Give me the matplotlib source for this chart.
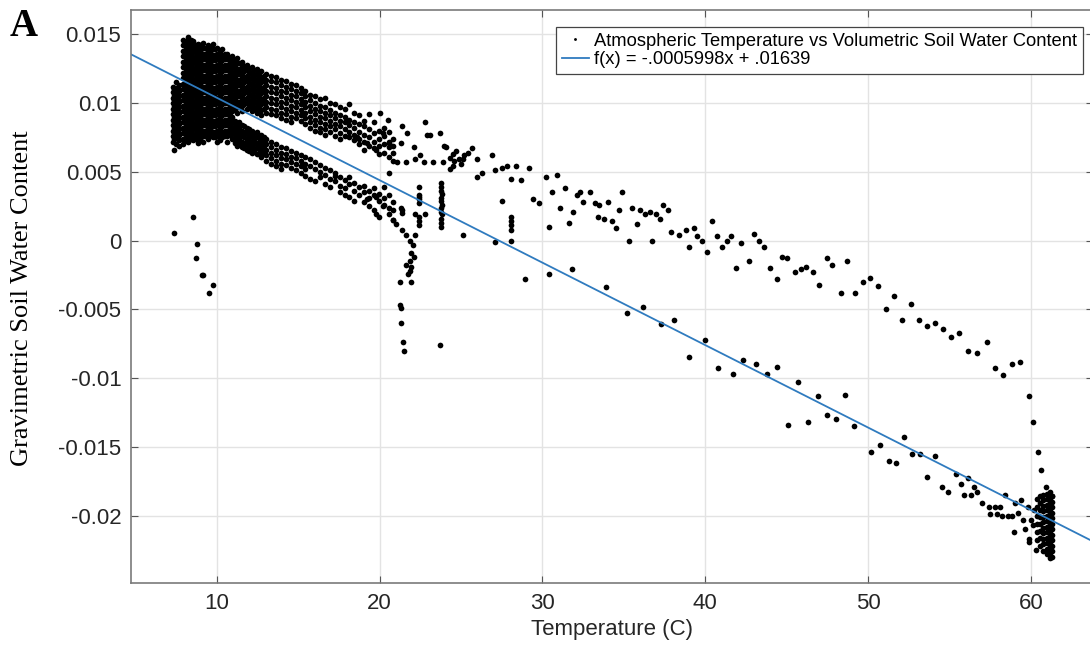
import numpy as np
import matplotlib.pyplot as plt

# soil water values are written in units of 1e-3
# cool end: one column of readings per temperature
cool_temp = [7.30, 7.50, 7.70, 7.95, 8.25, 8.55, 8.85, 9.15, 9.45, 9.75, 10.05, 10.35,
             10.65, 10.95, 11.25, 11.55, 11.85, 12.15, 12.45, 12.75, 13.05, 13.35, 13.65,
             13.95, 14.25, 14.55, 14.85, 15.15, 15.45, 15.75, 16.05, 16.35, 16.65, 16.95,
             17.25, 17.55, 17.85, 18.15, 18.45, 18.75, 19.05, 19.35, 19.65, 19.95, 20.25,
             20.55, 20.85]
cool_swc = [
    [11.2, 10.8, 10.4, 10.0, 9.6, 9.2, 8.8, 8.4, 8.0, 7.6, 7.2],
    [11.5, 11.1, 10.7, 10.3, 9.9, 9.5, 9.1, 8.7, 8.3, 7.9, 7.5, 7.0],
    [11.3, 10.9, 10.5, 10.1, 9.7, 9.3, 8.9, 8.5, 8.1, 7.7, 7.3, 6.9],
    [14.6, 14.2, 13.8, 13.4, 13.0, 12.6, 12.2, 11.8, 11.4, 11.0, 10.6, 10.2, 9.8, 9.4, 9.0, 8.6, 8.2, 7.8, 7.4, 7.0],
    [14.8, 14.4, 14.0, 13.6, 13.2, 12.8, 12.4, 12.0, 11.6, 11.2, 10.8, 10.4, 10.0, 9.6, 9.2, 8.8, 8.4, 8.0, 7.6, 7.2],
    [14.5, 14.1, 13.7, 13.3, 12.9, 12.5, 12.1, 11.7, 11.3, 10.9, 10.5, 10.1, 9.7, 9.3, 8.9, 8.5, 8.1, 7.7, 7.3],
    [14.3, 13.9, 13.5, 13.1, 12.7, 12.3, 11.9, 11.5, 11.1, 10.7, 10.3, 9.9, 9.5, 9.1, 8.7, 8.3, 7.9, 7.5, 7.1],
    [14.4, 14.0, 13.6, 13.2, 12.8, 12.4, 12.0, 11.6, 11.2, 10.8, 10.4, 10.0, 9.6, 9.2, 8.8, 8.4, 8.0, 7.6, 7.2],
    [14.2, 13.8, 13.4, 13.0, 12.6, 12.2, 11.8, 11.4, 11.0, 10.6, 10.2, 9.8, 9.4, 9.0, 8.6, 8.2, 7.8, 7.4],
    [14.3, 13.9, 13.5, 13.1, 12.7, 12.3, 11.9, 11.5, 11.1, 10.7, 10.3, 9.9, 9.5, 9.1, 8.7, 8.3, 7.9, 7.5],
    [14.0, 13.6, 13.2, 12.8, 12.4, 12.0, 11.6, 11.2, 10.8, 10.4, 10.0, 9.6, 9.2, 8.8, 8.4, 8.0, 7.6, 7.2],
    [13.9, 13.5, 13.1, 12.7, 12.3, 11.9, 11.5, 11.1, 10.7, 10.3, 9.9, 9.5, 9.1, 8.7, 8.3, 7.9, 7.5],
    [13.6, 13.2, 12.8, 12.4, 12.0, 11.6, 11.2, 10.8, 10.4, 10.0, 9.6, 9.2, 8.8, 8.4, 8.0, 7.6, 7.2],
    [13.4, 13.0, 12.6, 12.2, 11.8, 11.4, 11.0, 10.6, 10.2, 9.8, 9.4, 9.0, 8.6, 8.2, 7.8, 7.4],
    [13.3, 12.9, 12.5, 12.1, 11.7, 11.3, 10.9, 10.5, 10.1, 9.7, 9.3, 8.5, 8.1, 7.7, 7.3, 6.9],
    [13.0, 12.6, 12.2, 11.8, 11.4, 11.0, 10.6, 10.2, 9.8, 9.4, 8.4, 8.0, 7.6, 7.2, 6.8],
    [12.8, 12.4, 12.0, 11.6, 11.2, 10.8, 10.4, 10.0, 9.6, 8.2, 7.8, 7.4, 7.0, 6.6],
    [12.6, 12.2, 11.8, 11.4, 11.0, 10.6, 10.2, 9.8, 9.4, 8.0, 7.6, 7.2, 6.8, 6.4],
    [12.5, 12.1, 11.7, 11.3, 10.9, 10.5, 10.1, 9.7, 9.3, 7.9, 7.5, 7.1, 6.7, 6.3],
    [12.3, 11.9, 11.5, 11.1, 10.7, 10.3, 9.9, 9.5, 9.1, 7.7, 7.3, 6.9, 6.5, 6.1],
    [12.1, 11.7, 11.3, 10.9, 10.5, 10.1, 9.7, 9.3, 7.4, 7.0, 6.6, 6.2, 5.8],
    [12.0, 11.6, 11.2, 10.8, 10.4, 10.0, 9.6, 9.2, 7.2, 6.8, 6.4, 6.0, 5.6],
    [11.9, 11.5, 11.1, 10.7, 10.3, 9.9, 9.5, 9.1, 7.0, 6.6, 6.2, 5.8, 5.4],
    [11.7, 11.3, 10.9, 10.5, 10.1, 9.7, 9.3, 8.9, 6.8, 6.4, 6.0, 5.6, 5.2],
    [11.6, 11.2, 10.8, 10.4, 10.0, 9.6, 9.2, 8.8, 6.7, 6.3, 5.9, 5.5],
    [11.4, 11.0, 10.6, 10.2, 9.8, 9.4, 9.0, 8.6, 6.5, 6.1, 5.7, 5.3],
    [11.3, 10.9, 10.5, 10.1, 9.7, 9.3, 8.9, 6.4, 6.0, 5.6, 5.1],
    [11.1, 10.7, 10.3, 9.9, 9.5, 9.1, 8.7, 6.2, 5.8, 5.4, 4.9],
    [10.9, 10.5, 10.1, 9.7, 9.3, 8.9, 8.5, 6.1, 5.6, 5.2, 4.7],
    [10.6, 10.2, 9.8, 9.4, 9.0, 8.6, 8.2, 5.9, 5.4, 4.5],
    [10.5, 10.0, 9.6, 9.2, 8.8, 8.4, 8.0, 5.7, 5.2, 4.3],
    [10.3, 9.8, 9.4, 9.0, 8.6, 8.2, 7.9, 5.5, 5.0, 4.6],
    [10.4, 9.7, 9.3, 8.9, 8.5, 8.1, 7.7, 5.3, 4.8, 4.1],
    [10.0, 9.5, 9.1, 8.7, 8.3, 7.9, 5.1, 4.5, 3.9],
    [9.9, 9.3, 8.9, 8.5, 8.1, 7.6, 4.9, 4.3, 4.7],
    [9.7, 9.1, 8.7, 8.3, 7.8, 7.4, 4.6, 4.0, 3.5],
    [9.6, 9.0, 8.6, 8.1, 7.6, 4.4, 3.8, 3.3],
    [9.9, 8.8, 8.4, 7.9, 7.5, 4.6, 4.1, 3.2],
    [9.3, 8.6, 8.2, 7.7, 7.3, 4.2, 3.6, 2.9],
    [9.1, 8.5, 7.9, 7.4, 7.0, 3.9, 3.3],
    [8.7, 8.3, 7.7, 7.2, 6.6, 4.0, 3.5, 2.8],
    [9.2, 8.1, 7.5, 6.9, 3.6, 3.1, 2.5],
    [8.6, 7.8, 7.2, 6.7, 3.8, 3.3, 2.2],
    [8.0, 7.4, 6.9, 6.3, 3.4, 2.9, 1.7],
    [8.2, 7.6, 7.0, 6.4, 3.9, 3.1, 2.6],
    [7.9, 7.2, 6.8, 6.1, 3.3, 2.4, 1.9],
    [7.4, 6.9, 6.4, 5.8, 2.8, 2.2, 1.5],
]

# further readings in the densest part of the cool end
fill_temp = [7.40, 7.60, 8.10, 8.40, 8.70, 9.00, 9.30, 9.60, 9.90, 10.20, 10.50, 10.80,
             11.10, 11.40, 11.70, 12.00, 12.30, 12.60, 12.90]
fill_swc = [
    [11.0, 10.6, 10.2, 9.8, 9.4, 9.0, 8.6, 8.2, 7.8, 7.4],
    [11.0, 10.6, 10.2, 9.8, 9.4, 9.0, 8.6, 8.2, 7.8, 7.4],
    [14.5, 14.1, 13.7, 13.3, 12.9, 12.5, 12.1, 11.7, 11.3, 10.9, 10.5, 10.1, 9.7, 9.3, 8.9, 8.5, 8.1, 7.7, 7.3],
    [14.6, 14.2, 13.8, 13.4, 13.0, 12.6, 12.2, 11.8, 11.4, 11.0, 10.6, 10.2, 9.8, 9.4, 9.0, 8.6, 8.2, 7.8, 7.4],
    [14.2, 13.8, 13.4, 13.0, 12.6, 12.2, 11.8, 11.4, 11.0, 10.6, 10.2, 9.8, 9.4, 9.0, 8.6, 8.2, 7.8, 7.4],
    [14.2, 13.8, 13.4, 13.0, 12.6, 12.2, 11.8, 11.4, 11.0, 10.6, 10.2, 9.8, 9.4, 9.0, 8.6, 8.2, 7.8, 7.4],
    [14.0, 13.6, 13.2, 12.8, 12.4, 12.0, 11.6, 11.2, 10.8, 10.4, 10.0, 9.6, 9.2, 8.8, 8.4, 8.0, 7.6],
    [14.1, 13.7, 13.3, 12.9, 12.5, 12.1, 11.7, 11.3, 10.9, 10.5, 10.1, 9.7, 9.3, 8.9, 8.5, 8.1, 7.7],
    [13.9, 13.5, 13.1, 12.7, 12.3, 11.9, 11.5, 11.1, 10.7, 10.3, 9.9, 9.5, 9.1, 8.7, 8.3, 7.9, 7.5],
    [13.7, 13.3, 12.9, 12.5, 12.1, 11.7, 11.3, 10.9, 10.5, 10.1, 9.7, 9.3, 8.9, 8.5, 8.1, 7.7, 7.3],
    [13.6, 13.2, 12.8, 12.4, 12.0, 11.6, 11.2, 10.8, 10.4, 10.0, 9.6, 9.2, 8.8, 8.4, 8.0, 7.6],
    [13.3, 12.9, 12.5, 12.1, 11.7, 11.3, 10.9, 10.5, 10.1, 9.7, 9.3, 8.9, 8.5, 8.1, 7.7],
    [13.1, 12.7, 12.3, 11.9, 11.5, 11.1, 10.7, 10.3, 9.9, 9.5, 8.7, 8.3, 7.9, 7.5, 7.1],
    [12.9, 12.5, 12.1, 11.7, 11.3, 10.9, 10.5, 10.1, 9.7, 8.6, 8.2, 7.8, 7.4, 7.0],
    [12.7, 12.3, 11.9, 11.5, 11.1, 10.7, 10.3, 9.9, 8.3, 7.9, 7.5, 7.1, 6.7],
    [12.5, 12.1, 11.7, 11.3, 10.9, 10.5, 10.1, 9.7, 8.1, 7.7, 7.3, 6.9, 6.5],
    [12.4, 12.0, 11.6, 11.2, 10.8, 10.4, 10.0, 9.6, 7.8, 7.4, 7.0, 6.6],
    [12.2, 11.8, 11.4, 11.0, 10.6, 10.2, 9.8, 9.4, 7.6, 7.2, 6.8, 6.4],
    [12.0, 11.6, 11.2, 10.8, 10.4, 10.0, 9.6, 7.5, 7.1, 6.7, 6.3],
]

# hot end cluster near 61 C
hot_temp = [60.35, 60.55, 60.75, 60.95, 61.15, 61.30]
hot_swc = [
    [-18.8, -19.4, -20.0, -20.6, -21.2, -21.8],
    [-18.6, -19.1, -19.6, -20.1, -20.6, -21.1, -21.6, -22.2],
    [-18.5, -18.9, -19.3, -19.7, -20.1, -20.5, -20.9, -21.3, -21.7, -22.1, -22.6],
    [-18.4, -18.8, -19.2, -19.6, -20.0, -20.4, -20.8, -21.2, -21.6, -22.0, -22.4, -22.8],
    [-18.3, -18.7, -19.1, -19.5, -19.9, -20.3, -20.7, -21.1, -21.5, -21.9, -22.3, -22.7, -23.1],
    [-18.6, -19.0, -19.4, -19.8, -20.2, -20.6, -21.0, -21.4, -21.8, -22.2, -22.6, -23.0],
]

# single readings
pts_temp = [
    7.38, 7.40, 8.53, 8.77, 8.71, 9.08, 9.18, 9.75, 9.53,
    18.6, 19.2, 19.8, 20.0, 20.2, 20.5, 20.6, 20.6, 21.1, 21.3, 21.4, 21.6, 21.7, 22.1, 22.2,
    22.5, 22.7, 22.8, 22.9, 23.1, 23.3, 23.7, 23.9, 23.95, 24.1, 24.5, 24.7, 24.9, 25.1, 25.7,
    26.0, 26.0, 26.3, 26.9, 27.1, 27.5, 27.5, 27.8, 28.1, 28.4, 28.7, 29.2, 29.4, 29.8, 30.2,
    30.4, 30.6, 30.9, 31.1, 31.4, 31.6, 31.9, 32.1, 32.3, 32.5, 32.9, 33.2, 33.4, 33.5, 33.8,
    34.0, 34.3, 34.5, 34.7, 34.9, 35.3, 35.5, 35.8, 36.0, 36.3, 36.6, 36.7, 37.0, 37.2, 37.4,
    37.7, 37.9, 38.4, 38.8, 39.0, 39.3, 39.5, 39.8, 40.1, 40.4, 40.7, 41.0, 41.3, 41.6, 41.9,
    42.2, 42.7, 43.0, 43.3, 43.6, 44.0, 44.4, 44.7, 45.0, 45.5, 45.9, 46.2, 46.6, 47.0, 47.5,
    47.8, 48.3, 48.7, 49.2, 49.7, 50.1, 50.6, 51.1, 51.6, 52.1, 52.6, 53.1, 53.6, 54.1, 54.6,
    55.1, 55.6, 56.1, 56.7, 57.3, 57.8, 58.3, 58.8, 59.3, 59.9, 60.1, 60.4, 60.6, 60.9, 61.3,
    24.5, 24.3, 25.2, 25.4, 25.0, 24.3, 24.6,
    21.35, 21.6, 21.85, 22.15, 22.05, 21.95, 22.1, 21.85, 21.95, 21.6, 21.75, 21.85, 21.25,
    21.9, 21.25, 21.3, 21.3, 21.45, 21.5, 20.8, 21.0, 21.35, 21.4, 21.3, 20.2, 19.8, 19.8,
    19.2, 22.2, 22.8, 22.4,
    22.45, 22.45, 22.45, 22.45, 22.45, 22.45, 22.45,
    23.75, 23.8, 23.75, 23.85, 23.8, 23.75, 23.85, 23.8, 23.75, 23.85, 23.8, 23.8, 23.75, 23.7,
    25.1, 27.1, 28.1, 28.1, 28.1, 28.1, 28.1, 28.9, 30.4,
    31.8, 33.9, 35.2, 36.2, 37.3, 38.1, 39.0, 40.0, 40.8, 41.7, 42.3, 43.1, 43.8, 44.4, 45.1,
    45.7, 46.3, 46.9, 47.5, 48.0, 48.6, 49.1, 50.2, 50.7, 51.3, 51.7, 52.2, 52.7, 53.2, 53.6,
    54.1, 54.5, 54.9, 55.4, 55.7, 55.9, 56.1, 56.3, 56.5, 56.7, 57.0, 57.4, 57.5, 57.8, 57.9,
    58.1, 58.2, 58.4, 58.6, 58.8, 58.95, 59.0, 59.2, 59.4, 59.5, 59.6, 59.8, 59.9, 60.0, 59.9,
    60.1, 60.2, 60.3,
]
pts_swc = [
    6.6, 0.54, 1.7, -0.26, -1.3, -2.5, -2.5, -3.2, -3.8,
    7.5, 7.1, 6.6, 9.3, 7.8, 8.8, 7.1, 4.9, 5.7, 7.1, 8.3, 5.7, 7.8, 6.8, 5.9,
    6.2, 5.7, 8.6, 7.7, 7.7, 5.7, 7.8, 5.7, 6.9, 6.8, 5.4, 6.5, 5.9, 5.9, 6.7,
    5.9, 4.6, 4.9, 6.2, 5.1, 5.3, 2.9, 5.4, 4.5, 5.4, 4.4, 5.3, 3.0, 2.7, 4.6,
    1.0, 3.5, 4.8, 2.4, 3.8, 1.3, 2.1, 3.3, 3.5, 2.8, 3.5, 2.7, 1.7, 2.6, 1.6,
    2.8, 1.4, 0.9, 2.2, 3.5, 0.0, 2.4, 1.2, 2.2, 1.9, 2.1, 0.0, 1.9, 1.6, 2.6,
    2.2, 0.6, 0.4, 0.8, -0.5, 0.9, 0.3, 0.0, -0.8, 1.4, 0.3, -0.5, 0.0, 0.3, -2.0,
    -0.2, -1.5, 0.5, 0.0, -0.5, -2.0, -2.8, -1.2, -1.3, -2.3, -2.1, -1.9, -2.3, -3.2, -1.3,
    -1.8, -3.8, -1.5, -3.8, -3.0, -2.7, -3.3, -5.0, -4.0, -5.8, -4.6, -5.8, -6.2, -6.0, -6.4,
    -7.0, -6.7, -8.0, -8.2, -7.4, -9.3, -9.8, -9.0, -8.8, -11.3, -13.2, -15.4, -16.7, -17.9, -18.6,
    6.3, 6.0, 6.2, 6.4, 5.6, 5.2, 5.8,
    0.8, 0.4, 0.0, 0.4, -0.3, -0.9, -1.2, -1.5, -1.9, -1.8, -2.4, -2.2, -3.0,
    -3.0, -4.7, -4.9, -6.0, -7.4, -8.0, 1.5, 1.2, 2.2, 2.0, 2.4, 2.5, 3.2, 1.9,
    3.0, 1.9, 1.9, 3.2,
    3.9, 3.3, 3.0, 2.7, 1.7, 1.4, 1.1,
    4.2, 3.9, 3.6, 3.4, 3.1, 2.9, 2.6, 2.4, 2.1, 1.9, 1.6, 1.3, 1.0, -7.6,
    0.4, -0.1, 0.0, 1.7, 1.4, 1.1, 0.8, -2.8, -2.4,
    -2.1, -3.4, -5.3, -4.8, -6.1, -5.8, -8.5, -7.2, -9.3, -9.7, -8.7, -9.0, -9.7, -9.2, -13.4,
    -10.3, -13.2, -11.3, -12.7, -13.0, -11.2, -13.5, -15.4, -14.9, -16.0, -16.2, -14.3, -15.5, -15.5, -17.2,
    -15.7, -17.9, -18.3, -17.0, -17.7, -18.5, -17.3, -18.5, -17.9, -18.3, -19.1, -19.4, -19.9, -19.4, -19.9,
    -19.4, -20.0, -18.5, -20.0, -20.0, -21.2, -19.1, -19.8, -18.9, -20.3, -21.0, -19.4, -21.9, -20.3, -21.7,
    -20.7, -19.6, -22.5,
]

fit_slope = -0.0005998
fit_intercept = 0.01639

x_lim = (4.74, 63.8)
y_lim = (-0.0249, 0.01677)

col_temp = cool_temp + fill_temp + hot_temp
col_swc = cool_swc + fill_swc + hot_swc
temp = np.concatenate([np.repeat(col_temp, [len(c) for c in col_swc]), pts_temp])
swc = np.concatenate([np.concatenate(col_swc), pts_swc]) * 1e-3

plt.rcParams['font.family'] = ['Liberation Sans', 'DejaVu Sans']

fig = plt.figure(figsize=(10.9, 6.45), dpi=100)
ax = fig.add_axes([131 / 1090, 1 - 583 / 645, 962 / 1090, 573 / 645])

ax.plot(temp, swc, linestyle='none', marker='o', ms=4.1, mew=0, color='black',
        label='Atmospheric Temperature vs Volumetric Soil Water Content')
fit_x = np.array(x_lim)
ax.plot(fit_x, fit_slope * fit_x + fit_intercept, color='#2f7bbf', lw=1.3,
        label='f(x) = -.0005998x + .01639')

ax.set_xlim(x_lim)
ax.set_ylim(y_lim)
ax.set_xticks([10, 20, 30, 40, 50, 60])
ax.set_yticks([-0.02, -0.015, -0.01, -0.005, 0, 0.005, 0.01, 0.015])
ax.set_yticklabels(['-0.02', '-0.015', '-0.01', '-0.005', '0', '0.005', '0.01', '0.015'])
ax.grid(True, color='#e3e3e3', lw=1)
ax.set_axisbelow(True)
ax.tick_params(direction='in', top=True, right=True, length=5, width=0.8,
               color='#555555', labelsize=16, labelcolor='#262626', pad=7)
for s in ax.spines.values():
    s.set_color('#7a7a7a')
    s.set_linewidth(1.2)

ax.set_xlabel('Temperature (C)', fontsize=16, color='#262626', labelpad=4)
fig.text(22 / 1090, 1 - 298 / 645, 'Gravimetric Soil Water Content', rotation=90,
         ha='center', va='center', fontsize=19, family='Liberation Serif')
fig.text(10 / 1090, 1 - 26 / 645, 'A', ha='left', va='center', fontsize=28,
         fontweight='bold', family='Liberation Serif')

leg = ax.legend(loc='upper right', bbox_to_anchor=(1083 / 1090, 1 - 27 / 645),
                bbox_transform=fig.transFigure, borderaxespad=0, fontsize=13.2,
                frameon=True, fancybox=False, edgecolor='#444444', framealpha=1,
                handlelength=1.5, handletextpad=0.3, borderpad=0.3,
                labelspacing=0.1, markerscale=0.5)
leg.get_frame().set_linewidth(0.9)

fig.savefig('out.png', dpi=100)
